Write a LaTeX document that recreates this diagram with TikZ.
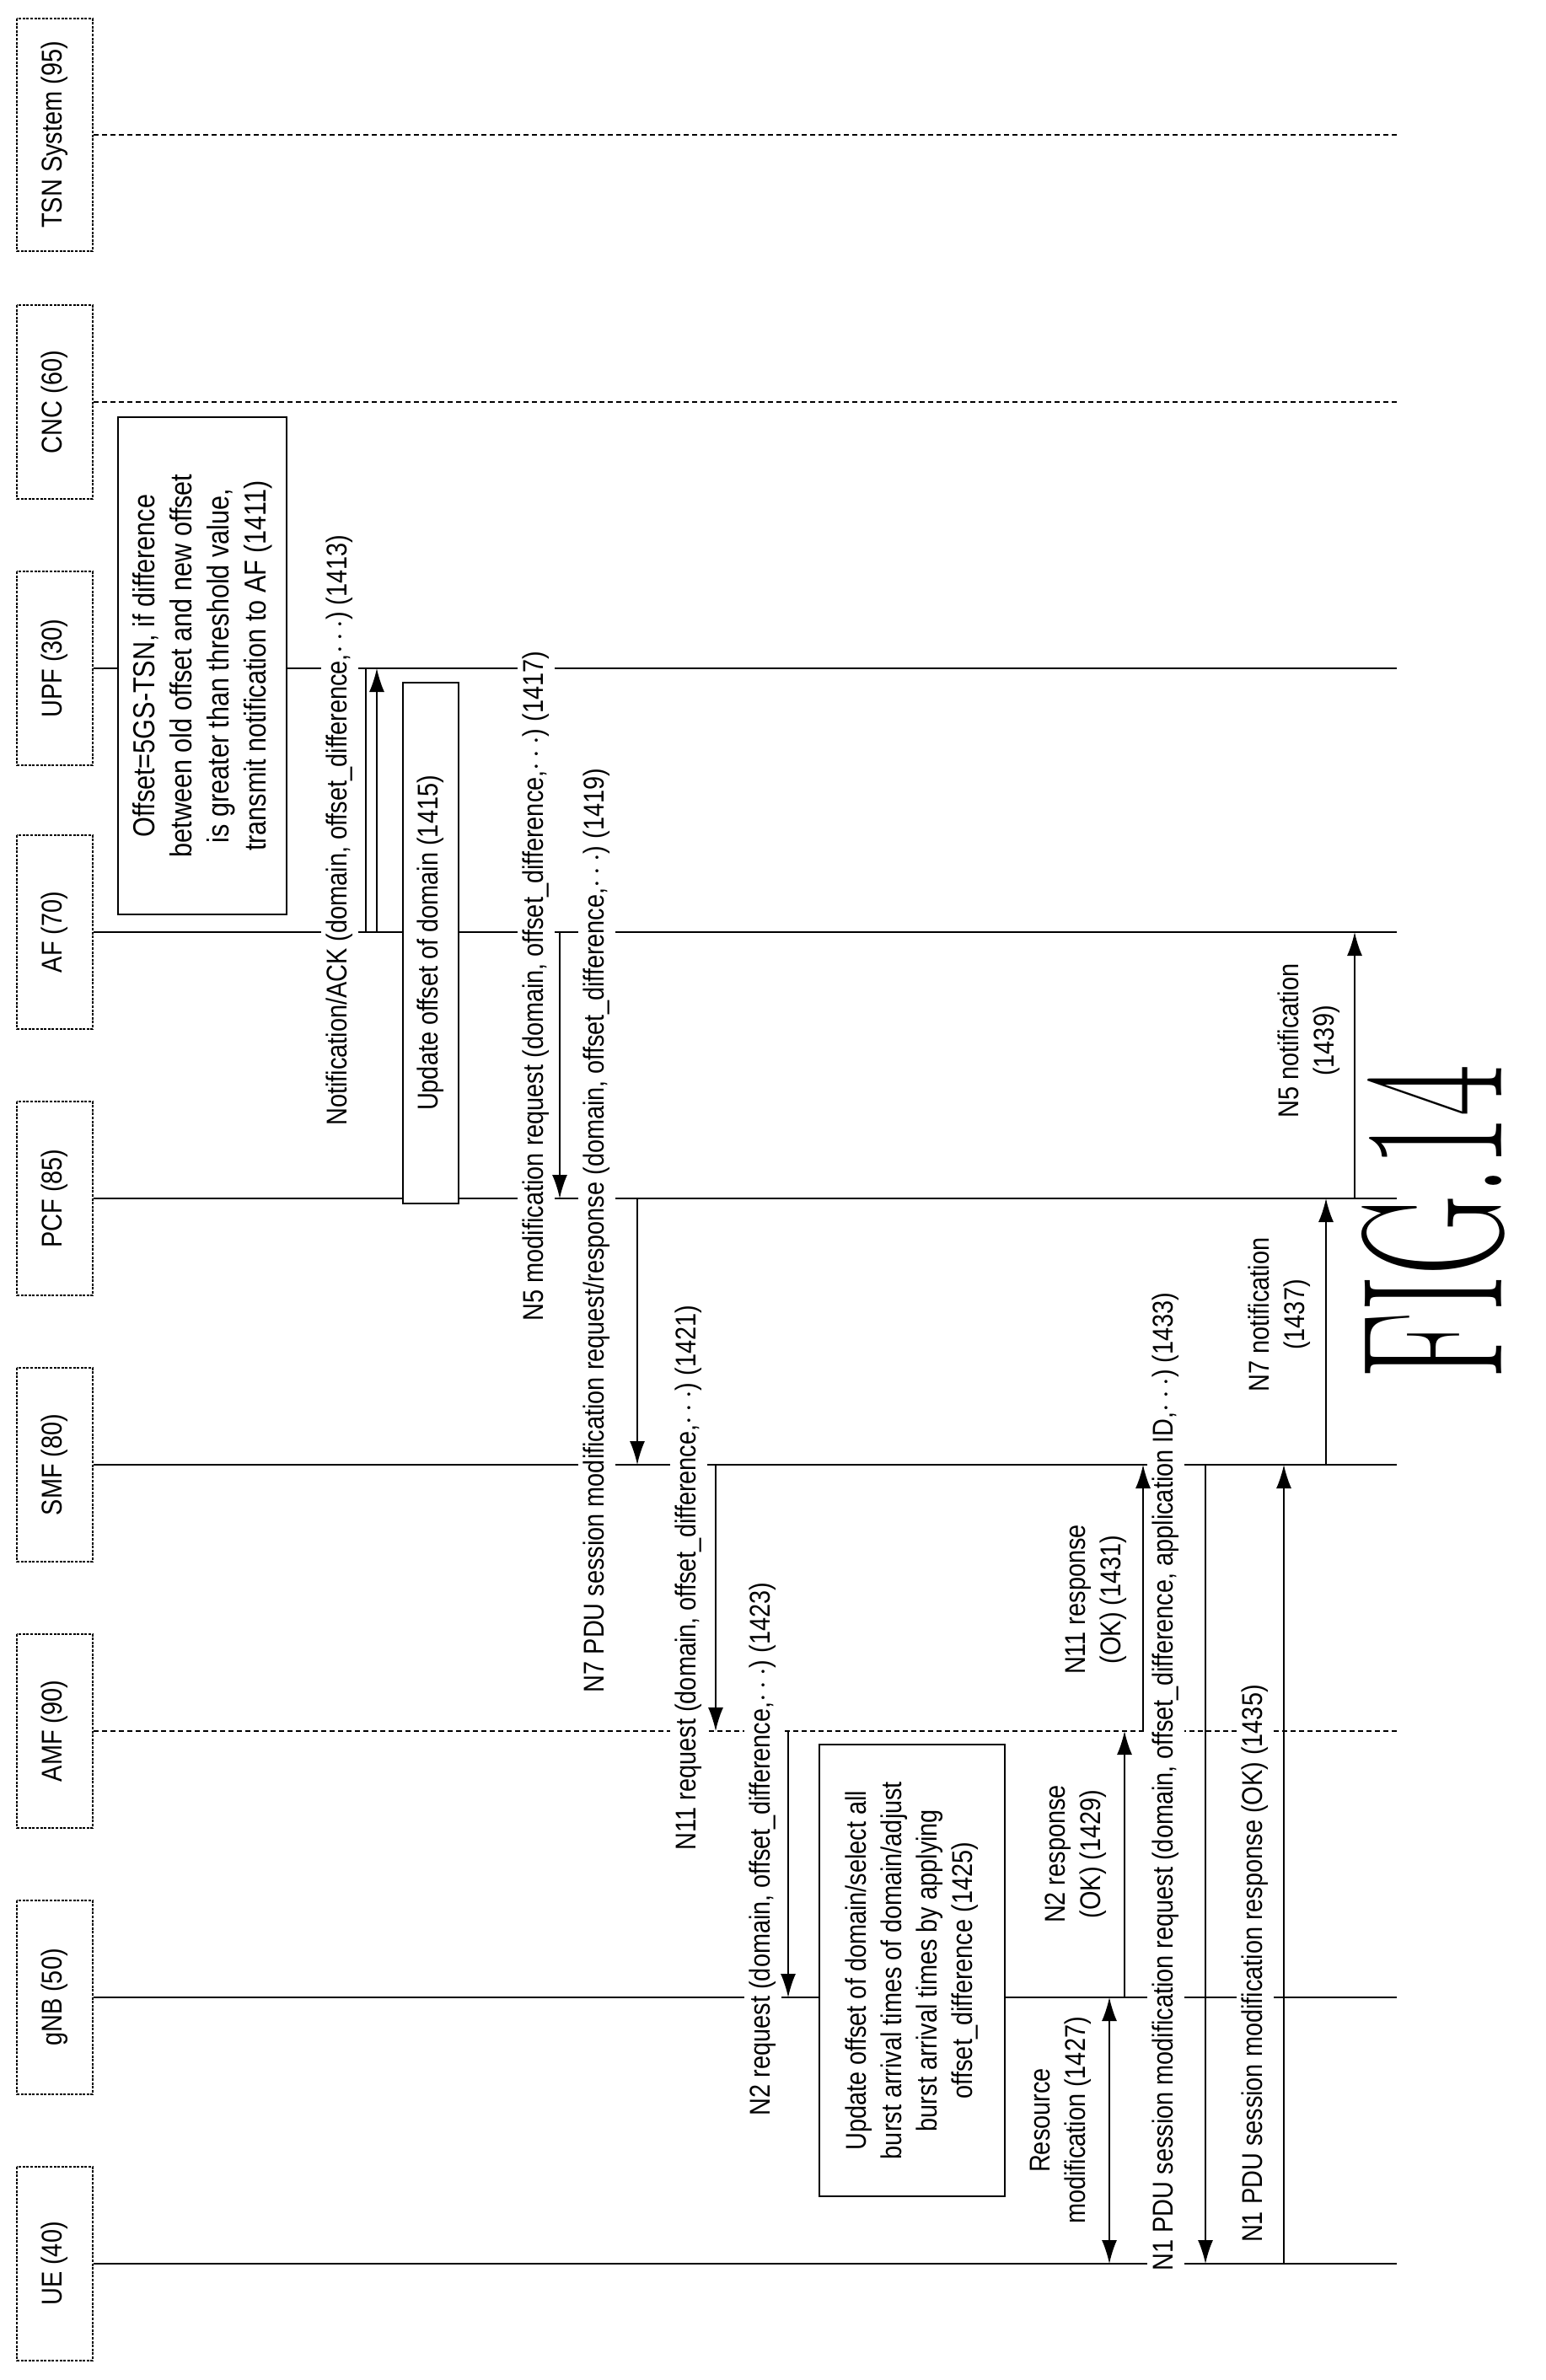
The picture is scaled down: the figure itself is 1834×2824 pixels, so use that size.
\documentclass[tikz,border=0pt]{standalone}
\usepackage{fontspec}
\setmainfont[FakeStretch=0.85]{Liberation Sans}
\newfontfamily\figfont{Latin Modern Roman}
\usetikzlibrary{arrows.meta}
\begin{document}
\begin{tikzpicture}[x=0.5pt,y=-0.5pt,
  ent/.style={draw,line width=1pt,dash pattern=on 1.5pt off 0.8pt,rotate=90,minimum width=115pt,minimum height=45pt,inner sep=0pt,font=\fontsize{17}{20}\selectfont},
  life/.style={line width=0.8pt},
  dlife/.style={line width=0.8pt,dash pattern=on 3pt off 2pt},
  arr/.style={line width=0.9pt,-{Latex[length=14pt,width=9pt]}},
  darr/.style={line width=0.9pt,{Latex[length=14pt,width=9pt]}-{Latex[length=14pt,width=9pt]}},
  lbl/.style={rotate=90,align=center,inner sep=3pt,fill=white,font=\fontsize{17}{21}\selectfont},
  note/.style={draw,fill=white,line width=1pt,rotate=90,align=center,inner sep=4pt,font=\fontsize{17}{21}\selectfont}]
\useasboundingbox (0,0) rectangle (1834,2824);
% entities
\node[ent,minimum width=138pt] (tsn) at (65,160) {TSN System (95)};
\node[ent] (cnc) at (65,477) {CNC (60)};
\node[ent] (upf) at (65,793) {UPF (30)};
\node[ent] (af) at (65,1106) {AF (70)};
\node[ent] (pcf) at (65,1422) {PCF (85)};
\node[ent] (smf) at (65,1738) {SMF (80)};
\node[ent] (amf) at (65,2054) {AMF (90)};
\node[ent] (gnb) at (65,2370) {gNB (50)};
\node[ent] (ue) at (65,2686) {UE (40)};
\foreach \n in {tsn,cnc,upf,af,pcf,smf,amf,gnb,ue}{\coordinate (\n E) at (1657,0 |- \n);}
\draw[dlife] (tsn.south) -- (tsnE);
\draw[dlife] (cnc.south) -- (cncE);
\draw[dlife] (amf.south) -- (amfE);
\foreach \n in {upf,af,pcf,smf,gnb,ue}{\draw[life] (\n.south) -- (\n E);}
% boxes and labels
\node[note,minimum width=295pt,minimum height=100pt,font=\fontsize{18}{22}\selectfont] (n1411) at (240,790) {Offset=5GS-TSN, if difference\\between old offset and new offset\\is greater than threshold value,\\transmit notification to AF (1411)};
\node[lbl] (l1413) at (403,985) {Notification/ACK (domain, offset\_difference,$\cdots$) (1413)};
\node[note,minimum width=309pt,minimum height=33pt] (n1415) at (511,1119) {Update offset of domain (1415)};
\node[lbl] (l1417) at (636,1170) {N5 modification request (domain, offset\_difference,$\cdots$) (1417)};
\node[lbl] (l1419) at (708,1460) {N7 PDU session modification request/response (domain, offset\_difference,$\cdots$) (1419)};
\node[lbl] (l1421) at (817,1872) {N11 request (domain, offset\_difference,$\cdots$) (1421)};
\node[lbl] (l1423) at (905,2194) {N2 request (domain, offset\_difference,$\cdots$) (1423)};
\node[note,minimum width=268pt,minimum height=110pt] (n1425) at (1082,2338) {Update offset of domain/select all\\burst arrival times of domain/adjust\\burst arrival times by applying\\offset\_difference (1425)};
\node[lbl] (l1427) at (1258,2516) {Resource\\modification (1427)};
\node[lbl] (l1429) at (1276,2200) {N2 response\\(OK) (1429)};
\node[lbl] (l1431) at (1300,1898) {N11 response\\(OK) (1431)};
\node[lbl] (l1433) at (1383,2114) {N1 PDU session modification request (domain, offset\_difference, application ID,$\cdots$) (1433)};
\node[lbl] (l1435) at (1489,2330) {N1 PDU session modification response (OK) (1435)};
\node[lbl] (l1437) at (1518,1560) {N7 notification\\(1437)};
\node[lbl] (l1439) at (1553,1235) {N5 notification\\(1439)};
% arrows
\draw[line width=0.9pt] (434,0 |- af) -- (434,0 |- upf);
\draw[arr] (447,0 |- af) -- (447,0 |- upf);
\draw[line width=0.9pt] (434,0 |- af) -- (447,0 |- af);
\draw[arr] (664,0 |- af) -- (664,0 |- pcf);
\draw[arr] (756,0 |- pcf) -- (756,0 |- smf);
\draw[arr] (849,0 |- smf) -- (849,0 |- amf);
\draw[arr] (935,0 |- amf) -- (935,0 |- gnb);
\draw[darr] (1316,0 |- gnb) -- (1316,0 |- ue);
\draw[arr] (1334,0 |- gnb) -- (1334,0 |- amf);
\draw[arr] (1356,0 |- amf) -- (1356,0 |- smf);
\draw[arr] (1430,0 |- smf) -- (1430,0 |- ue);
\draw[arr] (1523,0 |- ue) -- (1523,0 |- smf);
\draw[arr] (1573,0 |- smf) -- (1573,0 |- pcf);
\draw[line width=0.9pt] (1573,0 |- pcf) -- (1607,0 |- pcf);
\draw[arr] (1607,0 |- pcf) -- (1607,0 |- af);
% figure label
\node[rotate=90,inner sep=0pt,font=\figfont\fontsize{66}{66}\selectfont] (fig) at (1700,1450) {\scalebox{1}[1.8]{FIG.14}};
\end{tikzpicture}
\end{document}
